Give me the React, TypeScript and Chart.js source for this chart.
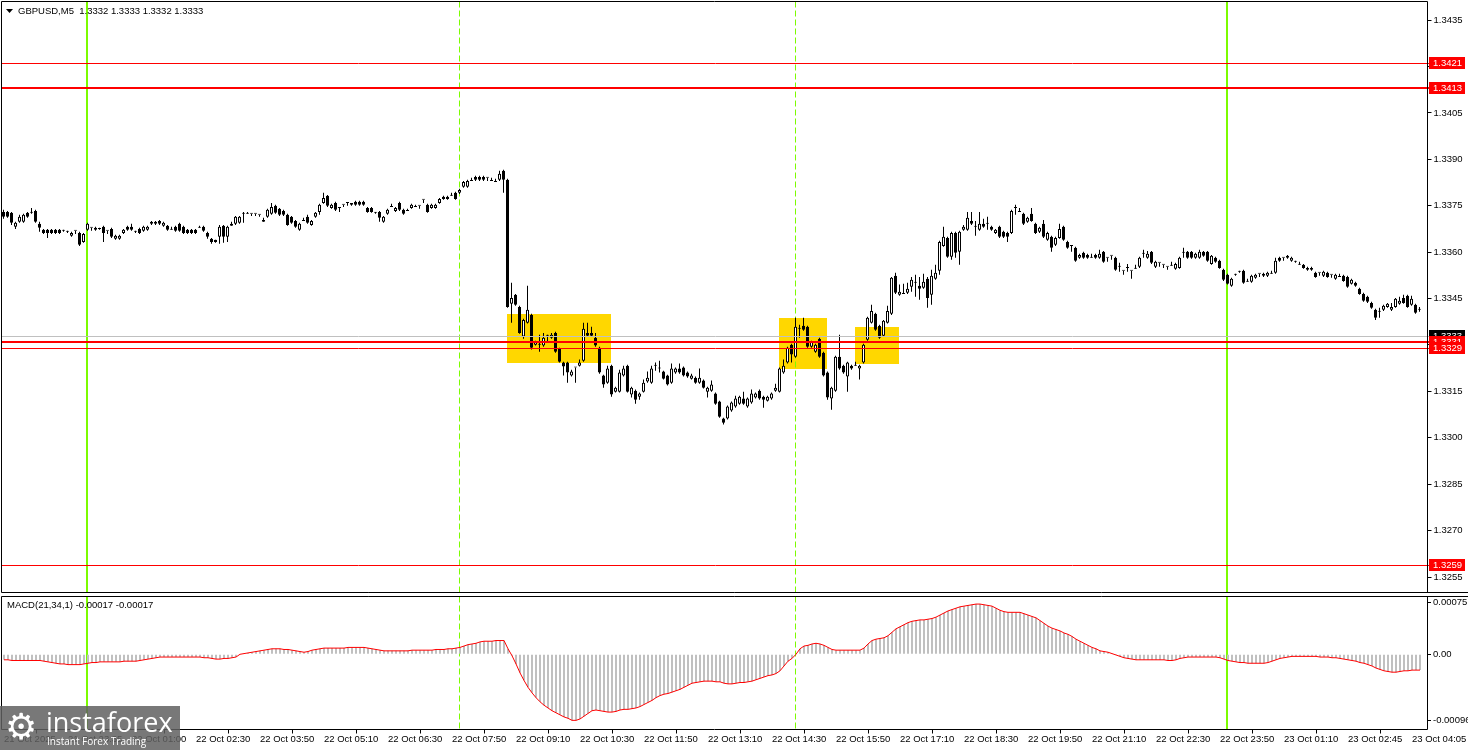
import React, { useEffect, useRef } from "react";
import { Chart, registerables } from "chart.js";

Chart.register(...registerables);

const SYMBOL_TITLE = "GBPUSD,M5  1.3332 1.3333 1.3332 1.3333";
const MACD_TITLE = "MACD(21,34,1) -0.00017 -0.00017";

const OPEN = [
  1.33730,1.33730,1.33727,1.33682,1.33698,1.33698,1.33727,1.33727,1.33733,1.33692,
  1.33672,1.33672,1.33672,1.33672,1.33672,1.33669,1.33666,1.33653,1.33669,1.33662,
  1.33633,1.33672,1.33679,1.33672,1.33675,1.33682,1.33669,1.33675,1.33643,1.33643,
  1.33662,1.33682,1.33682,1.33666,1.33675,1.33669,1.33672,1.33692,1.33692,1.33701,
  1.33685,1.33685,1.33672,1.33682,1.33692,1.33682,1.33672,1.33672,1.33672,1.33679,
  1.33682,1.33662,1.33643,1.33640,1.33650,1.33685,1.33650,1.33685,1.33692,1.33695,
  1.33724,1.33724,1.33724,1.33724,1.33721,1.33698,1.33714,1.33724,1.33750,1.33740,
  1.33733,1.33721,1.33714,1.33701,1.33672,1.33701,1.33714,1.33688,1.33714,1.33730,
  1.33759,1.33782,1.33743,1.33759,1.33743,1.33753,1.33759,1.33759,1.33763,1.33763,
  1.33763,1.33743,1.33743,1.33727,1.33730,1.33698,1.33724,1.33746,1.33733,1.33759,
  1.33737,1.33733,1.33743,1.33746,1.33750,1.33769,1.33753,1.33743,1.33743,1.33759,
  1.33779,1.33779,1.33782,1.33792,1.33792,1.33811,1.33811,1.33830,1.33843,1.33843,
  1.33843,1.33840,1.33830,1.33827,1.33834,1.33863,1.33834,1.33433,1.33462,1.33423,
  1.33327,1.33372,1.33397,1.33301,1.33301,1.33298,1.33330,1.33323,1.33339,1.33288,
  1.33243,1.33243,1.33201,1.33227,1.33233,1.33249,1.33339,1.33339,1.33323,1.33291,
  1.33201,1.33178,1.33233,1.33149,1.33149,1.33201,1.33233,1.33140,1.33152,1.33133,
  1.33149,1.33182,1.33178,1.33233,1.33224,1.33214,1.33201,1.33178,1.33211,1.33224,
  1.33227,1.33211,1.33191,1.33194,1.33178,1.33185,1.33149,1.33152,1.33143,1.33117,
  1.33062,1.33062,1.33088,1.33101,1.33110,1.33127,1.33101,1.33114,1.33130,1.33152,
  1.33133,1.33120,1.33127,1.33152,1.33149,1.33211,1.33243,1.33301,1.33262,1.33352,
  1.33362,1.33359,1.33294,1.33278,1.33320,1.33275,1.33211,1.33127,1.33152,1.33262,
  1.33233,1.33198,1.33233,1.33233,1.33224,1.33243,1.33317,1.33372,1.33401,1.33362,
  1.33330,1.33372,1.33401,1.33524,1.33462,1.33465,1.33469,1.33488,1.33501,1.33491,
  1.33485,1.33514,1.33462,1.33514,1.33540,1.33620,1.33646,1.33585,1.33662,1.33601,
  1.33672,1.33672,1.33701,1.33682,1.33672,1.33692,1.33692,1.33682,1.33662,1.33682,
  1.33666,1.33662,1.33662,1.33743,1.33730,1.33724,1.33698,1.33724,1.33692,1.33666,
  1.33692,1.33640,1.33650,1.33624,1.33646,1.33682,1.33633,1.33620,1.33614,1.33582,
  1.33598,1.33591,1.33582,1.33591,1.33582,1.33601,1.33582,1.33588,1.33582,1.33553,
  1.33540,1.33549,1.33540,1.33546,1.33553,1.33595,1.33582,1.33601,1.33553,1.33566,
  1.33559,1.33553,1.33556,1.33546,1.33549,1.33598,1.33601,1.33601,1.33582,1.33582,
  1.33601,1.33601,1.33562,1.33582,1.33572,1.33543,1.33527,1.33491,1.33527,1.33537,
  1.33540,1.33504,1.33504,1.33517,1.33530,1.33524,1.33524,1.33530,1.33533,1.33582,
  1.33582,1.33588,1.33572,1.33569,1.33559,1.33559,1.33549,1.33549,1.33533,1.33533,
  1.33524,1.33533,1.33527,1.33514,1.33520,1.33524,1.33520,1.33498,1.33501,1.33482,
  1.33465,1.33456,1.33436,1.33414,1.33407,1.33414,1.33423,1.33414,1.33423,1.33433,
  1.33452,1.33459,1.33430,1.33430,1.33414,
];

const HIGH = [
  1.33737,1.33733,1.33730,1.33698,1.33721,1.33724,1.33730,1.33743,1.33737,1.33698,
  1.33675,1.33675,1.33675,1.33675,1.33675,1.33672,1.33669,1.33666,1.33669,1.33666,
  1.33662,1.33695,1.33679,1.33682,1.33679,1.33685,1.33669,1.33679,1.33656,1.33656,
  1.33675,1.33685,1.33692,1.33669,1.33679,1.33685,1.33685,1.33701,1.33701,1.33704,
  1.33698,1.33688,1.33682,1.33685,1.33695,1.33685,1.33675,1.33675,1.33675,1.33685,
  1.33685,1.33666,1.33646,1.33640,1.33688,1.33688,1.33685,1.33698,1.33717,1.33717,
  1.33730,1.33730,1.33724,1.33724,1.33721,1.33711,1.33740,1.33759,1.33753,1.33743,
  1.33737,1.33724,1.33717,1.33704,1.33695,1.33711,1.33721,1.33704,1.33730,1.33756,
  1.33792,1.33785,1.33756,1.33763,1.33743,1.33753,1.33759,1.33759,1.33766,1.33766,
  1.33766,1.33746,1.33746,1.33730,1.33733,1.33717,1.33740,1.33756,1.33746,1.33763,
  1.33740,1.33740,1.33756,1.33753,1.33750,1.33769,1.33756,1.33756,1.33756,1.33775,
  1.33782,1.33782,1.33792,1.33795,1.33805,1.33830,1.33834,1.33840,1.33847,1.33847,
  1.33847,1.33840,1.33840,1.33837,1.33863,1.33866,1.33837,1.33501,1.33465,1.33427,
  1.33385,1.33491,1.33401,1.33314,1.33333,1.33339,1.33333,1.33339,1.33343,1.33291,
  1.33246,1.33246,1.33220,1.33227,1.33253,1.33372,1.33372,1.33359,1.33339,1.33294,
  1.33204,1.33233,1.33236,1.33165,1.33220,1.33233,1.33236,1.33165,1.33156,1.33146,
  1.33188,1.33214,1.33233,1.33243,1.33249,1.33217,1.33204,1.33240,1.33227,1.33240,
  1.33230,1.33214,1.33207,1.33198,1.33224,1.33188,1.33165,1.33185,1.33146,1.33120,
  1.33065,1.33104,1.33117,1.33136,1.33136,1.33149,1.33130,1.33156,1.33146,1.33156,
  1.33136,1.33136,1.33146,1.33175,1.33227,1.33253,1.33294,1.33304,1.33388,1.33365,
  1.33388,1.33362,1.33314,1.33304,1.33323,1.33278,1.33214,1.33165,1.33265,1.33333,
  1.33236,1.33246,1.33236,1.33246,1.33236,1.33304,1.33391,1.33430,1.33404,1.33365,
  1.33381,1.33427,1.33520,1.33533,1.33495,1.33498,1.33501,1.33520,1.33527,1.33520,
  1.33530,1.33520,1.33543,1.33559,1.33637,1.33682,1.33650,1.33666,1.33666,1.33669,
  1.33688,1.33730,1.33730,1.33701,1.33730,1.33708,1.33714,1.33685,1.33675,1.33685,
  1.33669,1.33666,1.33737,1.33753,1.33743,1.33727,1.33714,1.33743,1.33695,1.33682,
  1.33704,1.33666,1.33653,1.33650,1.33692,1.33685,1.33637,1.33620,1.33617,1.33595,
  1.33601,1.33595,1.33595,1.33595,1.33608,1.33604,1.33582,1.33588,1.33585,1.33566,
  1.33540,1.33562,1.33540,1.33559,1.33585,1.33608,1.33604,1.33604,1.33572,1.33566,
  1.33559,1.33553,1.33569,1.33566,1.33585,1.33614,1.33604,1.33604,1.33598,1.33608,
  1.33604,1.33604,1.33591,1.33585,1.33575,1.33546,1.33530,1.33517,1.33530,1.33540,
  1.33543,1.33514,1.33527,1.33530,1.33530,1.33533,1.33537,1.33540,1.33582,1.33585,
  1.33582,1.33591,1.33585,1.33572,1.33569,1.33562,1.33553,1.33553,1.33537,1.33533,
  1.33540,1.33537,1.33527,1.33530,1.33530,1.33527,1.33524,1.33514,1.33504,1.33485,
  1.33469,1.33459,1.33440,1.33417,1.33420,1.33430,1.33436,1.33436,1.33452,1.33456,
  1.33462,1.33462,1.33459,1.33433,1.33423,
];

const LOW = [
  1.33708,1.33711,1.33688,1.33675,1.33695,1.33695,1.33711,1.33724,1.33695,1.33666,
  1.33659,1.33646,1.33659,1.33659,1.33659,1.33666,1.33662,1.33650,1.33659,1.33620,
  1.33630,1.33669,1.33669,1.33669,1.33672,1.33633,1.33659,1.33646,1.33640,1.33640,
  1.33659,1.33669,1.33669,1.33662,1.33659,1.33666,1.33669,1.33688,1.33688,1.33688,
  1.33682,1.33669,1.33672,1.33666,1.33666,1.33659,1.33659,1.33659,1.33659,1.33679,
  1.33666,1.33643,1.33627,1.33630,1.33627,1.33630,1.33633,1.33685,1.33688,1.33692,
  1.33695,1.33724,1.33717,1.33717,1.33714,1.33698,1.33711,1.33721,1.33724,1.33717,
  1.33717,1.33685,1.33692,1.33679,1.33669,1.33701,1.33692,1.33685,1.33711,1.33721,
  1.33756,1.33746,1.33740,1.33733,1.33730,1.33746,1.33750,1.33750,1.33750,1.33750,
  1.33750,1.33727,1.33727,1.33724,1.33698,1.33695,1.33721,1.33746,1.33730,1.33733,
  1.33721,1.33733,1.33740,1.33746,1.33740,1.33759,1.33727,1.33740,1.33740,1.33756,
  1.33769,1.33769,1.33782,1.33769,1.33788,1.33808,1.33808,1.33830,1.33830,1.33830,
  1.33830,1.33830,1.33830,1.33827,1.33830,1.33792,1.33420,1.33372,1.33427,1.33336,
  1.33320,1.33369,1.33285,1.33298,1.33278,1.33294,1.33307,1.33320,1.33275,1.33243,
  1.33201,1.33178,1.33198,1.33178,1.33230,1.33246,1.33327,1.33327,1.33294,1.33207,
  1.33162,1.33175,1.33133,1.33146,1.33146,1.33198,1.33146,1.33130,1.33110,1.33123,
  1.33146,1.33178,1.33175,1.33217,1.33211,1.33188,1.33169,1.33175,1.33207,1.33207,
  1.33198,1.33194,1.33188,1.33175,1.33175,1.33159,1.33130,1.33149,1.33107,1.33065,
  1.33043,1.33059,1.33084,1.33097,1.33107,1.33107,1.33097,1.33110,1.33127,1.33123,
  1.33097,1.33117,1.33123,1.33149,1.33146,1.33207,1.33240,1.33243,1.33259,1.33323,
  1.33346,1.33291,1.33291,1.33275,1.33259,1.33198,1.33123,1.33091,1.33149,1.33220,
  1.33207,1.33149,1.33220,1.33233,1.33188,1.33240,1.33314,1.33369,1.33346,1.33320,
  1.33327,1.33369,1.33397,1.33465,1.33459,1.33465,1.33465,1.33472,1.33456,1.33446,
  1.33482,1.33420,1.33430,1.33511,1.33527,1.33617,1.33582,1.33575,1.33582,1.33559,
  1.33669,1.33669,1.33688,1.33653,1.33669,1.33679,1.33672,1.33669,1.33659,1.33646,
  1.33646,1.33633,1.33659,1.33721,1.33730,1.33688,1.33695,1.33698,1.33659,1.33662,
  1.33646,1.33637,1.33601,1.33620,1.33643,1.33637,1.33611,1.33601,1.33569,1.33579,
  1.33579,1.33579,1.33582,1.33579,1.33579,1.33566,1.33569,1.33575,1.33540,1.33537,
  1.33527,1.33537,1.33514,1.33546,1.33549,1.33582,1.33579,1.33562,1.33549,1.33553,
  1.33549,1.33543,1.33556,1.33543,1.33546,1.33582,1.33579,1.33579,1.33579,1.33579,
  1.33585,1.33569,1.33559,1.33566,1.33546,1.33507,1.33495,1.33488,1.33524,1.33533,
  1.33498,1.33504,1.33501,1.33514,1.33520,1.33520,1.33520,1.33530,1.33530,1.33569,
  1.33572,1.33579,1.33569,1.33566,1.33559,1.33546,1.33540,1.33540,1.33517,1.33524,
  1.33520,1.33517,1.33517,1.33511,1.33520,1.33504,1.33485,1.33495,1.33488,1.33462,
  1.33440,1.33436,1.33417,1.33381,1.33388,1.33410,1.33420,1.33410,1.33420,1.33430,
  1.33433,1.33420,1.33427,1.33401,1.33407,
];

const CLOSE = [
  1.33714,1.33714,1.33695,1.33695,1.33714,1.33721,1.33714,1.33727,1.33698,1.33679,
  1.33662,1.33662,1.33662,1.33662,1.33662,1.33669,1.33666,1.33662,1.33669,1.33624,
  1.33659,1.33692,1.33679,1.33679,1.33675,1.33662,1.33669,1.33650,1.33653,1.33653,
  1.33672,1.33672,1.33672,1.33666,1.33662,1.33682,1.33682,1.33698,1.33698,1.33692,
  1.33695,1.33672,1.33672,1.33669,1.33669,1.33662,1.33662,1.33662,1.33662,1.33679,
  1.33669,1.33650,1.33633,1.33633,1.33682,1.33650,1.33682,1.33692,1.33714,1.33714,
  1.33727,1.33724,1.33724,1.33724,1.33721,1.33704,1.33737,1.33746,1.33727,1.33721,
  1.33721,1.33688,1.33695,1.33682,1.33692,1.33704,1.33695,1.33701,1.33727,1.33753,
  1.33775,1.33750,1.33753,1.33737,1.33743,1.33753,1.33759,1.33753,1.33753,1.33753,
  1.33753,1.33730,1.33730,1.33727,1.33711,1.33714,1.33737,1.33746,1.33743,1.33737,
  1.33724,1.33733,1.33753,1.33746,1.33750,1.33769,1.33730,1.33753,1.33753,1.33772,
  1.33772,1.33772,1.33782,1.33772,1.33801,1.33827,1.33830,1.33830,1.33834,1.33834,
  1.33834,1.33840,1.33830,1.33827,1.33853,1.33834,1.33423,1.33452,1.33430,1.33339,
  1.33381,1.33414,1.33291,1.33311,1.33301,1.33323,1.33330,1.33333,1.33278,1.33246,
  1.33230,1.33211,1.33214,1.33227,1.33243,1.33352,1.33330,1.33330,1.33298,1.33211,
  1.33172,1.33224,1.33140,1.33162,1.33211,1.33224,1.33149,1.33162,1.33123,1.33143,
  1.33178,1.33194,1.33224,1.33233,1.33224,1.33191,1.33172,1.33224,1.33224,1.33211,
  1.33201,1.33198,1.33201,1.33178,1.33194,1.33162,1.33162,1.33172,1.33110,1.33068,
  1.33049,1.33101,1.33114,1.33127,1.33133,1.33110,1.33127,1.33143,1.33143,1.33127,
  1.33123,1.33133,1.33143,1.33162,1.33224,1.33233,1.33291,1.33269,1.33359,1.33352,
  1.33349,1.33294,1.33311,1.33301,1.33262,1.33201,1.33130,1.33162,1.33262,1.33224,
  1.33211,1.33243,1.33224,1.33233,1.33233,1.33301,1.33388,1.33410,1.33349,1.33323,
  1.33378,1.33410,1.33517,1.33469,1.33472,1.33465,1.33482,1.33511,1.33501,1.33482,
  1.33504,1.33452,1.33524,1.33533,1.33633,1.33650,1.33585,1.33662,1.33598,1.33666,
  1.33682,1.33711,1.33692,1.33682,1.33692,1.33682,1.33692,1.33672,1.33672,1.33650,
  1.33650,1.33650,1.33733,1.33743,1.33730,1.33692,1.33711,1.33701,1.33662,1.33679,
  1.33650,1.33662,1.33614,1.33646,1.33675,1.33640,1.33614,1.33620,1.33572,1.33591,
  1.33582,1.33582,1.33582,1.33582,1.33595,1.33569,1.33582,1.33588,1.33543,1.33553,
  1.33540,1.33549,1.33540,1.33546,1.33582,1.33595,1.33595,1.33566,1.33569,1.33566,
  1.33559,1.33553,1.33556,1.33562,1.33582,1.33598,1.33582,1.33582,1.33595,1.33601,
  1.33588,1.33572,1.33588,1.33569,1.33549,1.33511,1.33498,1.33514,1.33527,1.33537,
  1.33501,1.33504,1.33524,1.33527,1.33530,1.33530,1.33533,1.33530,1.33572,1.33572,
  1.33582,1.33582,1.33582,1.33569,1.33559,1.33549,1.33543,1.33543,1.33520,1.33533,
  1.33537,1.33520,1.33527,1.33527,1.33520,1.33507,1.33488,1.33511,1.33491,1.33465,
  1.33443,1.33440,1.33420,1.33388,1.33407,1.33427,1.33433,1.33423,1.33449,1.33443,
  1.33436,1.33423,1.33449,1.33404,1.33414,
];

const MACD = [
  -0.00008,-0.00008,-0.00009,-0.00009,-0.00009,-0.00009,-0.00009,-0.00009,-0.00009,-0.00009,
  -0.0001,-0.00011,-0.00012,-0.00013,-0.00014,-0.00014,-0.00015,-0.00015,-0.00015,-0.00015,
  -0.00014,-0.00013,-0.00012,-0.00012,-0.00011,-0.00011,-0.00011,-0.00011,-0.00011,-0.00011,
  -0.0001,-0.0001,-0.0001,-0.0001,-0.00009,-0.00008,-0.00007,-0.00006,-0.00005,-0.00004,
  -0.00004,-0.00004,-0.00004,-0.00004,-0.00004,-0.00004,-0.00004,-0.00004,-0.00004,-0.00004,
  -0.00005,-0.00005,-0.00006,-0.00007,-0.00007,-0.00006,-0.00006,-0.00005,-0.00004,0,
  0.00001,0.00002,0.00003,0.00004,0.00005,0.00006,0.00007,0.00008,0.00008,0.00008,
  0.00007,0.00007,0.00006,0.00005,0.00004,0.00003,0.00004,0.00006,0.00007,0.00008,
  0.00009,0.00009,0.00009,0.00009,0.00009,0.00009,0.0001,0.0001,0.0001,0.0001,
  0.0001,0.00009,0.00008,0.00007,0.00006,0.00005,0.00005,0.00005,0.00005,0.00005,
  0.00005,0.00005,0.00006,0.00006,0.00006,0.00006,0.00006,0.00006,0.00007,0.00007,
  0.00007,0.00008,0.00008,0.00009,0.0001,0.00012,0.00014,0.00015,0.00016,0.00018,
  0.00019,0.00019,0.00019,0.0002,0.0002,0.0002,0.00008,-0.00002,-0.00014,-0.00027,
  -0.00038,-0.00048,-0.00056,-0.00063,-0.00069,-0.00074,-0.00078,-0.00082,-0.00085,-0.00088,
  -0.00091,-0.00093,-0.00096,-0.00096,-0.00094,-0.0009,-0.00086,-0.00082,-0.00081,-0.00082,
  -0.00083,-0.00084,-0.00084,-0.00083,-0.00081,-0.0008,-0.0008,-0.00079,-0.00078,-0.00076,
  -0.00073,-0.0007,-0.00067,-0.00063,-0.0006,-0.00058,-0.00057,-0.00055,-0.00053,-0.00051,
  -0.00048,-0.00045,-0.00042,-0.00041,-0.0004,-0.00039,-0.00039,-0.00039,-0.0004,-0.0004,
  -0.00042,-0.00043,-0.00043,-0.00042,-0.00041,-0.00041,-0.0004,-0.00039,-0.00037,-0.00035,
  -0.00033,-0.00031,-0.0003,-0.00028,-0.00024,-0.00017,-0.0001,-0.00006,0,0.00008,
  0.00012,0.00013,0.00015,0.00016,0.00015,0.00013,0.0001,0.00007,0.00006,0.00006,
  0.00006,0.00006,0.00006,0.00006,0.00006,0.00009,0.00015,0.0002,0.00022,0.00023,
  0.00024,0.00027,0.00032,0.00037,0.0004,0.00043,0.00046,0.00048,0.00049,0.0005,
  0.0005,0.00051,0.00052,0.00054,0.00057,0.0006,0.00063,0.00065,0.00067,0.00069,
  0.0007,0.00071,0.00072,0.00073,0.00073,0.00072,0.00071,0.0007,0.00067,0.00064,
  0.00062,0.00061,0.00061,0.00061,0.00061,0.00059,0.00057,0.00055,0.00053,0.00049,
  0.00045,0.00041,0.00038,0.00036,0.00034,0.00031,0.00029,0.00026,0.00022,0.00019,
  0.00016,0.00013,0.0001,0.00008,0.00005,0.00004,0.00003,0.00001,-0.00001,-0.00003,
  -0.00005,-0.00006,-0.00007,-0.00008,-0.00008,-0.00008,-0.00008,-0.00008,-0.00008,-0.00008,
  -0.00008,-0.00009,-0.00009,-0.00008,-0.00006,-0.00005,-0.00004,-0.00004,-0.00004,-0.00004,
  -0.00004,-0.00004,-0.00004,-0.00004,-0.00005,-0.00007,-0.00009,-0.0001,-0.00011,-0.00012,
  -0.00012,-0.00013,-0.00013,-0.00013,-0.00013,-0.00013,-0.00012,-0.0001,-0.00008,-0.00006,
  -0.00005,-0.00004,-0.00003,-0.00003,-0.00003,-0.00003,-0.00003,-0.00003,-0.00003,-0.00004,
  -0.00004,-0.00004,-0.00005,-0.00005,-0.00006,-0.00007,-0.00008,-0.00009,-0.0001,-0.00012,
  -0.00013,-0.00015,-0.00017,-0.0002,-0.00022,-0.00024,-0.00025,-0.00026,-0.00026,-0.00025,
  -0.00024,-0.00024,-0.00023,-0.00023,-0.00023,
];

// price axis
const PRICE_MIN = 1.325;
const PRICE_MAX = 1.3441;
const PRICE_TICKS = [1.3255, 1.327, 1.3285, 1.33, 1.3315, 1.333, 1.3345, 1.336, 1.3375, 1.339, 1.3405, 1.342, 1.3435];

// horizontal levels
const RED_LEVELS = [1.3421, 1.3413, 1.3331, 1.3329, 1.3259];
const RED_LEVEL_WIDTHS = [1, 2, 2, 1, 1];
const BID_LEVEL = 1.3333;

// yellow zones: [from bar, to bar, top price, bottom price]
const ZONES: [number, number, number, number][] = [
  [126, 152, 1.33401, 1.33243],
  [194, 206, 1.33388, 1.33223],
  [213, 224, 1.33359, 1.33239],
];

// vertical lines (bar indexes)
const DAY_LINES = [21, 306];
const SESSION_LINES = [114, 198];

// time axis
const TIME_TICK_BARS = [0, 16, 32, 48, 64, 80, 96, 112, 128, 144, 160, 176, 192, 208, 224, 240, 256, 272, 288, 304, 320, 336, 352];
const TIME_LABELS = [
  "21 Oct 2025", "21 Oct 23:35", "22 Oct 01:00", "22 Oct 02:30", "22 Oct 03:50", "22 Oct 05:10",
  "22 Oct 06:30", "22 Oct 07:50", "22 Oct 09:10", "22 Oct 10:30", "22 Oct 11:50", "22 Oct 13:10",
  "22 Oct 14:30", "22 Oct 15:50", "22 Oct 17:10", "22 Oct 18:30", "22 Oct 19:50", "22 Oct 21:10",
  "22 Oct 22:30", "22 Oct 23:50", "23 Oct 01:10", "23 Oct 02:45", "23 Oct 04:05",
];

// MACD axis
const MACD_MIN = -0.001093;
const MACD_MAX = 0.00084;
const MACD_TICKS = [0.00075, 0, -0.00096];

const FONT_FAMILY = '"Liberation Sans", Arial, sans-serif';
const FONT_SIZE = 9.5;
const FONT = `${FONT_SIZE}px ${FONT_FAMILY}`;

function drawVLines(ctx: CanvasRenderingContext2D, area: any, xs: any) {
  ctx.save();
  ctx.strokeStyle = "#7CFC00";
  ctx.lineWidth = 2;
  ctx.setLineDash([]);
  DAY_LINES.forEach((b) => {
    const px = Math.floor(xs.getPixelForValue(b) - 0.5);
    ctx.beginPath();
    ctx.moveTo(px, area.top);
    ctx.lineTo(px, area.bottom);
    ctx.stroke();
  });
  ctx.lineWidth = 1;
  ctx.setLineDash([6, 3]);
  SESSION_LINES.forEach((b) => {
    const px = Math.floor(xs.getPixelForValue(b) - 0.5) + 0.5;
    ctx.beginPath();
    ctx.moveTo(px, area.top);
    ctx.lineTo(px, area.bottom);
    ctx.stroke();
  });
  ctx.restore();
}

function drawFrame(ctx: CanvasRenderingContext2D, area: any, sepTop: boolean, sepBottom: boolean, width: number) {
  const l = Math.floor(area.left - 0.5) + 0.5;
  const r = Math.floor(area.right) + 0.5;
  const t = Math.floor(area.top - 0.5) + 0.5;
  const b = Math.floor(area.bottom) + 0.5;
  ctx.save();
  ctx.strokeStyle = "#000";
  ctx.lineWidth = 1;
  ctx.beginPath();
  ctx.moveTo(l, t);
  ctx.lineTo(sepTop ? width : r, t);
  ctx.moveTo(l, b);
  ctx.lineTo(sepBottom ? width : r, b);
  ctx.moveTo(l, t);
  ctx.lineTo(l, b);
  ctx.moveTo(r, t);
  ctx.lineTo(r, b);
  ctx.stroke();
  ctx.restore();
}

const mainOverlay = {
  id: "mainOverlay",
  beforeDatasetsDraw(chart: any) {
    const { ctx, chartArea: a, scales } = chart;
    const xs = scales.x;
    const ys = scales.y;
    ctx.save();
    ctx.fillStyle = "#FFD700";
    ZONES.forEach(([b0, b1, p0, p1]) => {
      const x0 = Math.floor(xs.getPixelForValue(b0));
      const x1 = Math.floor(xs.getPixelForValue(b1));
      const y0 = Math.round(ys.getPixelForValue(p0));
      const y1 = Math.round(ys.getPixelForValue(p1));
      ctx.fillRect(x0, y0, x1 - x0, y1 - y0);
    });
    ctx.restore();
    drawVLines(ctx, a, xs);
  },
  afterDatasetsDraw(chart: any) {
    const { ctx, chartArea: a, scales, width } = chart;
    const ys = scales.y;
    ctx.save();
    ctx.setLineDash([]);
    const hline = (v: number, w: number, color: string) => {
      const base = Math.round(ys.getPixelForValue(v));
      const py = w % 2 === 1 ? base + 0.5 : base;
      ctx.strokeStyle = color;
      ctx.lineWidth = w;
      ctx.beginPath();
      ctx.moveTo(a.left, py);
      ctx.lineTo(a.right + 2, py);
      ctx.stroke();
    };
    hline(BID_LEVEL, 1, "#C0C0C0");
    RED_LEVELS.forEach((v, i) => hline(v, RED_LEVEL_WIDTHS[i], "#FF0000"));
    ctx.restore();
    drawFrame(ctx, a, false, true, width);
  },
  afterDraw(chart: any) {
    const { ctx, chartArea: a, scales } = chart;
    const ys = scales.y;
    ctx.save();
    ctx.font = FONT;
    ctx.textBaseline = "middle";
    ctx.textAlign = "left";
    const tag = (v: number, bg: string) => {
      const py = Math.round(ys.getPixelForValue(v));
      ctx.fillStyle = bg;
      ctx.fillRect(a.right + 1.5, py - 6, 36, 12);
      ctx.fillStyle = "#fff";
      ctx.fillText(v.toFixed(4), a.right + 5.5, py + 0.5);
    };
    tag(BID_LEVEL, "#000");
    RED_LEVELS.forEach((v) => tag(v, "#FF0000"));

    // title
    ctx.fillStyle = "#000";
    ctx.beginPath();
    ctx.moveTo(6, 9);
    ctx.lineTo(13, 9);
    ctx.lineTo(9.5, 13);
    ctx.closePath();
    ctx.fill();
    ctx.fillText(SYMBOL_TITLE, 18, 11);
    ctx.restore();
  },
};

const macdOverlay = {
  id: "macdOverlay",
  beforeDatasetsDraw(chart: any) {
    const { ctx, chartArea: a, scales } = chart;
    drawVLines(ctx, a, scales.x);
  },
  afterDatasetsDraw(chart: any) {
    const { ctx, chartArea: a, width } = chart;
    drawFrame(ctx, a, true, false, width);
  },
  afterDraw(chart: any) {
    const { ctx } = chart;
    ctx.save();
    ctx.font = FONT;
    ctx.fillStyle = "#000";
    ctx.textBaseline = "middle";
    ctx.textAlign = "left";
    ctx.fillText(MACD_TITLE, 7, 11);
    ctx.restore();
  },
};

export default function App() {
  const mainRef = useRef<HTMLCanvasElement>(null);
  const macdRef = useRef<HTMLCanvasElement>(null);

  useEffect(() => {
    const idx = CLOSE.map((_, i) => i);
    const tickFont = { family: FONT_FAMILY, size: FONT_SIZE };

    const main = new Chart(mainRef.current as HTMLCanvasElement, {
      type: "bar",
      data: {
        datasets: [
          {
            label: "body",
            data: idx.map((i) => ({ x: i, y: [OPEN[i], CLOSE[i]] })) as any,
            barThickness: 3,
            backgroundColor: (c: any) => (CLOSE[c.dataIndex] >= OPEN[c.dataIndex] ? "#FFFFFF" : "#000000"),
            borderColor: "#000000",
            borderWidth: 1,
            borderSkipped: false,
            minBarLength: 1,
            grouped: false,
            inflateAmount: 0,
            order: 1,
          } as any,
          {
            label: "wick",
            data: idx.map((i) => ({ x: i, y: [LOW[i], HIGH[i]] })) as any,
            barThickness: 1,
            backgroundColor: "#000000",
            borderWidth: 0,
            grouped: false,
            inflateAmount: 0,
            minBarLength: 1,
            order: 2,
          } as any,
        ],
      },
      options: {
        animation: false,
        responsive: false,
        devicePixelRatio: 1,
        events: [],
        layout: { padding: { left: 1.5, top: 1.5, bottom: 1.5, right: 0 } },
        plugins: { legend: { display: false }, tooltip: { enabled: false } },
        scales: {
          x: { type: "linear", min: -0.5, max: 356, offset: false, bounds: "data", display: false },
          y: {
            type: "linear",
            position: "right",
            min: PRICE_MIN,
            max: PRICE_MAX,
            bounds: "data",
            beginAtZero: false,
            afterBuildTicks: (ax: any) => {
              ax.ticks = PRICE_TICKS.map((v) => ({ value: v }));
            },
            afterFit: (ax: any) => {
              ax.width = 40.5;
              ax.paddingTop = 0;
              ax.paddingBottom = 0;
            },
            ticks: {
              callback: (v: any) => Number(v).toFixed(4),
              font: tickFont,
              color: "#000",
              padding: 2,
              autoSkip: false,
            },
            grid: { drawOnChartArea: false, drawTicks: true, tickLength: 4, tickColor: "#000", color: "#000" },
            border: { display: false },
          },
        },
      } as any,
      plugins: [mainOverlay],
    });

    const macd = new Chart(macdRef.current as HTMLCanvasElement, {
      type: "bar",
      data: {
        datasets: [
          {
            type: "line",
            label: "signal",
            data: idx.map((i) => ({ x: i, y: MACD[i] })) as any,
            borderColor: "#FF0000",
            borderWidth: 1,
            pointRadius: 0,
            tension: 0,
            order: 0,
          } as any,
          {
            label: "macd",
            data: idx.map((i) => ({ x: i, y: MACD[i] })) as any,
            barThickness: 2,
            backgroundColor: "#C0C0C0",
            borderWidth: 0,
            grouped: false,
            inflateAmount: 0,
            order: 1,
          } as any,
        ],
      },
      options: {
        animation: false,
        responsive: false,
        devicePixelRatio: 1,
        events: [],
        layout: { padding: { left: 2, top: 2.5, bottom: 0, right: 0 } },
        plugins: { legend: { display: false }, tooltip: { enabled: false } },
        scales: {
          x: {
            type: "linear",
            position: "bottom",
            min: -0.5,
            max: 355.75,
            offset: false,
            bounds: "data",
            afterBuildTicks: (ax: any) => {
              ax.ticks = TIME_TICK_BARS.map((v) => ({ value: v }));
            },
            afterFit: (ax: any) => {
              ax.height = 20.5;
              ax.paddingLeft = 0;
              ax.paddingRight = 0;
            },
            ticks: {
              callback: (v: any) => TIME_LABELS[TIME_TICK_BARS.indexOf(Number(v))] ?? "",
              font: tickFont,
              color: "#000",
              align: "start",
              maxRotation: 0,
              minRotation: 0,
              autoSkip: false,
              padding: 0,
            },
            grid: { drawOnChartArea: false, drawTicks: true, tickLength: 4, tickColor: "#000", color: "#000" },
            border: { display: false },
          },
          y: {
            type: "linear",
            position: "right",
            min: MACD_MIN,
            max: MACD_MAX,
            bounds: "data",
            beginAtZero: false,
            afterBuildTicks: (ax: any) => {
              ax.ticks = MACD_TICKS.map((v) => ({ value: v }));
            },
            afterFit: (ax: any) => {
              ax.width = 41;
              ax.paddingTop = 0;
              ax.paddingBottom = 0;
            },
            ticks: {
              callback: (v: any) => (Number(v) === 0 ? "0.00" : Number(v).toFixed(5)),
              font: tickFont,
              color: "#000",
              padding: 2,
              autoSkip: false,
            },
            grid: { drawOnChartArea: false, drawTicks: true, tickLength: 4, tickColor: "#000", color: "#000" },
            border: { display: false },
          },
        },
      } as any,
      plugins: [macdOverlay],
    });

    return () => {
      main.destroy();
      macd.destroy();
    };
  }, []);

  return (
    <div style={{ position: "absolute", left: 0, top: 0, width: 1468, height: 750, background: "#fff", overflow: "hidden" }}>
      <canvas ref={mainRef} width={1468} height={594} style={{ position: "absolute", left: 0, top: 0 }} />
      <canvas ref={macdRef} width={1468} height={156} style={{ position: "absolute", left: 0, top: 594 }} />
      <div
        style={{
          position: "absolute",
          left: 0,
          top: 706,
          width: 180,
          height: 44,
          background: "rgba(96,96,96,0.85)",
          color: "#fff",
          overflow: "hidden",
          fontFamily: '"Open Sans", "Liberation Sans", sans-serif',
        }}
      >
        <div style={{ position: "absolute", left: 5, top: 0, fontSize: 36, lineHeight: "42px", fontFamily: '"DejaVu Sans", sans-serif' }}>⚙</div>
        <div style={{ position: "absolute", left: 46, top: 1, fontSize: 27, lineHeight: "30px" }}>instaforex</div>
        <div style={{ position: "absolute", left: 47, top: 29, fontSize: 10, lineHeight: "12px" }}>Instant Forex Trading</div>
      </div>
    </div>
  );
}
